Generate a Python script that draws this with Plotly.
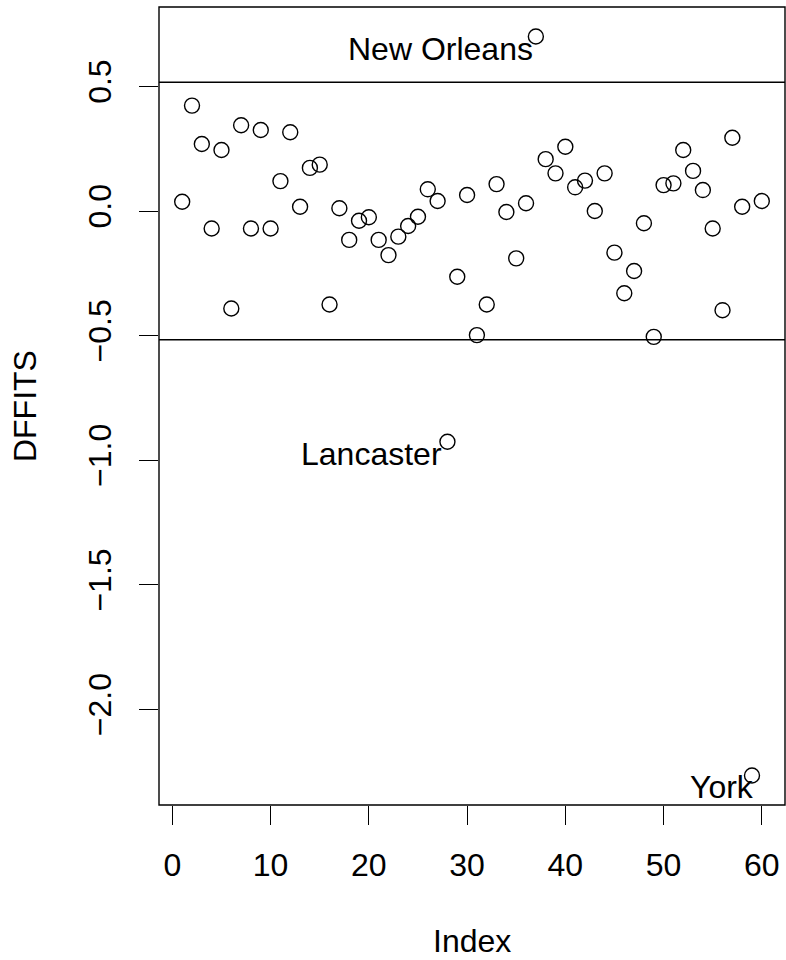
import numpy as np
import plotly.graph_objects as go

# DFFITS for each of the 60 observations
index = list(range(1, 61))
dffits = [
    0.037, 0.423, 0.269, -0.070, 0.245, -0.391, 0.344, -0.070, 0.325, -0.070,
    0.120, 0.316, 0.017, 0.173, 0.186, -0.375, 0.011, -0.116, -0.039, -0.025,
    -0.116, -0.177, -0.103, -0.060, -0.023, 0.087, 0.040, -0.926, -0.264, 0.064,
    -0.498, -0.375, 0.108, -0.004, -0.190, 0.031, 0.700, 0.208, 0.151, 0.258,
    0.095, 0.122, 0.000, 0.151, -0.167, -0.330, -0.241, -0.049, -0.505, 0.104,
    0.111, 0.245, 0.161, 0.084, -0.070, -0.398, 0.294, 0.017, -2.265, 0.040,
]

# cutoff 2*sqrt(p/n) for p = 4 parameters, n = 60 observations
n_obs = 60
n_par = 4
cutoff = 2 * np.sqrt(n_par / n_obs)

# labelled influential points: (index, label, horizontal pixel shift)
labelled = [(37, "New Orleans", -1), (28, "Lancaster", -3), (59, "York", 4)]

xticks = [0, 10, 20, 30, 40, 50, 60]
yticks = [-2.0, -1.5, -1.0, -0.5, 0.0, 0.5]
ytick_text = ["\u22122.0", "\u22121.5", "\u22121.0", "\u22120.5", "0.0", "0.5"]

FONT = "Liberation Sans, Arial, Helvetica, sans-serif"
FS = 32

# R-style 4% padding of the data range
def padded(lo, hi):
    d = (hi - lo) * 0.04
    return [lo - d, hi + d]

xr = padded(min(index), max(index))
yr = padded(min(dffits), max(dffits))

fig = go.Figure()
fig.add_trace(go.Scatter(
    x=index, y=dffits, mode="markers",
    marker=dict(symbol="circle-open", size=15, color="black",
                line=dict(color="black", width=1.4)),
    showlegend=False, hoverinfo="x+y",
))

for i, lab, dx in labelled:
    fig.add_annotation(
        x=i, y=dffits[i - 1], text=lab, showarrow=False,
        xanchor="right", yanchor="middle", xshift=dx, yshift=-12,
        font=dict(family=FONT, size=FS, color="black"),
    )

# cutoff lines across the plot region
for yv in (cutoff, -cutoff):
    fig.add_shape(type="line", xref="paper", x0=0, x1=1, yref="y", y0=yv, y1=yv,
                  line=dict(color="black", width=1.4))

# plot box
fig.add_shape(type="rect", xref="paper", yref="paper", x0=0, x1=1, y0=0, y1=1,
              line=dict(color="black", width=1.4))

# axis titles
fig.add_annotation(x=0.5, y=-0.1704, xref="paper", yref="paper", text="Index",
                   showarrow=False, xanchor="center", yanchor="middle",
                   font=dict(family=FONT, size=FS, color="black"))
fig.add_annotation(x=-0.214, y=0.5, xref="paper", yref="paper", text="DFFITS",
                   showarrow=False, xanchor="center", yanchor="middle", textangle=-90,
                   font=dict(family=FONT, size=FS, color="black"))

fig.update_layout(
    width=786, height=960,
    margin=dict(l=159, r=1, t=7, b=155, pad=0),
    paper_bgcolor="white", plot_bgcolor="white",
    font=dict(family=FONT, size=FS, color="black"),
    xaxis=dict(range=xr, tickvals=xticks, ticks="outside", ticklen=19, tickwidth=1.4,
               tickcolor="black", showgrid=False, zeroline=False, showline=False,
               ticklabelstandoff=13, tickfont=dict(family=FONT, size=FS, color="black")),
    yaxis=dict(range=yr, tickvals=yticks, ticktext=ytick_text, ticks="outside",
               ticklen=19, tickwidth=1.4, tickcolor="black", showgrid=False,
               zeroline=False, showline=False, tickangle=-90, ticklabelstandoff=15,
               tickfont=dict(family=FONT, size=FS, color="black")),
)

fig.write_html("out.html")
